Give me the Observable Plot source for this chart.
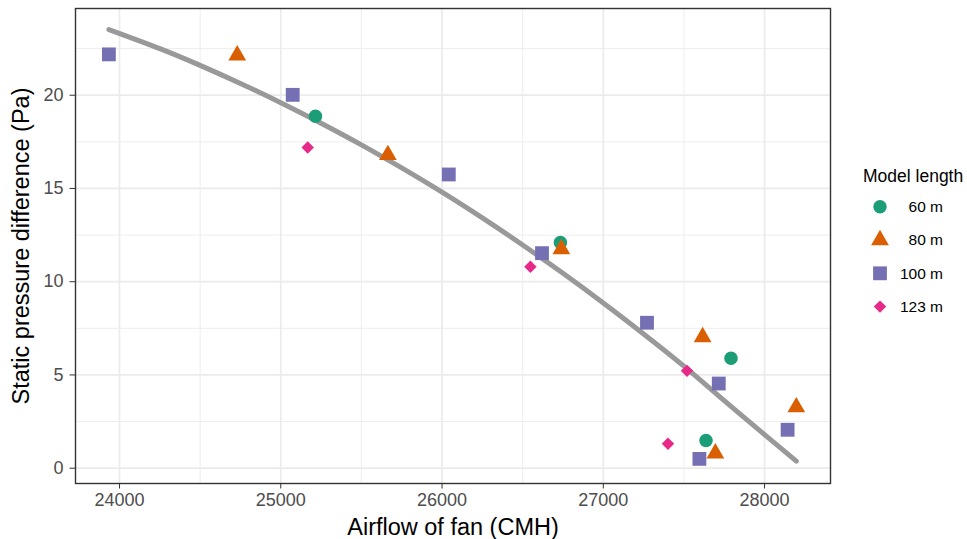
<!DOCTYPE html>
<html>
<head>
<meta charset="utf-8">
<script src="https://cdn.jsdelivr.net/npm/d3@7"></script>
<script src="https://cdn.jsdelivr.net/npm/@observablehq/plot@0.6"></script>
<style>
  body { margin: 0; background: #fff; }
  #chart { position: relative; width: 967px; height: 539px; font-family: "Liberation Sans", Arial, sans-serif; }
  #chart > svg { position: absolute; left: 0; top: 0; }
</style>
</head>
<body>
<div id="chart"></div>
<script>
// Model lengths (legend order)
const lengths = ["60 m", "80 m", "100 m", "123 m"];

// Measured fan airflow (CMH) and static pressure difference (Pa) per model length
const airflow60 = [25215, 26734, 27792, 27637];
const pressure60 = [18.87, 12.1, 5.9, 1.49];
const airflow80 = [24730, 25664, 26740, 27616, 28197, 27695];
const pressure80 = [22.14, 16.8, 11.75, 7.03, 3.27, 0.8];
const airflow100 = [23934, 25074, 26042, 26620, 27271, 27716, 28143, 27596];
const pressure100 = [22.19, 20.02, 15.75, 11.53, 7.8, 4.54, 2.06, 0.5];
const airflow123 = [25167, 26548, 27519, 27401];
const pressure123 = [17.2, 10.8, 5.22, 1.31];

// Fitted trend curve over all runs
const fitAirflow = [23934, 24250, 24500, 24750, 25000, 25250, 25500, 25750, 26000,
                    26250, 26500, 26750, 27000, 27250, 27500, 27750, 28000, 28197];
const fitPressure = [23.52, 22.5, 21.6, 20.63, 19.6, 18.5, 17.34, 16.1, 14.8,
                     13.42, 11.97, 10.45, 8.86, 7.2, 5.47, 3.62, 1.8, 0.38];

// Axis ticks
const xTicks = [24000, 25000, 26000, 27000, 28000];
const xMinor = [24500, 25500, 26500, 27500];
const yTicks = [0, 5, 10, 15, 20];
const yMinor = [2.5, 7.5, 12.5, 17.5, 22.5];

const xTitle = "Airflow of fan (CMH)";
const yTitle = "Static pressure difference (Pa)";
const legendTitle = "Model length";

// Styling
const palette = ["#1B9E77", "#D95F02", "#7570B3", "#E7298A"];
const symbols = ["circle", "triangle", "square", "diamond2"];
const radii = [6.75, 6.6, 7.8, 5.6];

const series = [
  [airflow60, pressure60],
  [airflow80, pressure80],
  [airflow100, pressure100],
  [airflow123, pressure123]
];
const groups = series.map(([xs, ys], i) =>
  xs.map((x, j) => ({length: lengths[i], airflow: x, pressure: ys[j]})));
const fit = fitAirflow.map((x, i) => ({airflow: x, pressure: fitPressure[i]}));

const W = 967, H = 539;
const plot = Plot.plot({
  width: W,
  height: H,
  marginLeft: 75,
  marginRight: 137,
  marginTop: 8,
  marginBottom: 56,
  style: {fontFamily: "'Liberation Sans', Arial, sans-serif", background: "#fff"},
  x: {domain: [23727, 28409]},
  y: {domain: [-0.82, 24.65]},
  color: {domain: lengths, range: palette},
  symbol: {domain: lengths, range: symbols},
  marks: [
    Plot.ruleX(xMinor, {stroke: "#EBEBEB", strokeWidth: 0.9}),
    Plot.ruleY(yMinor, {stroke: "#EBEBEB", strokeWidth: 0.9}),
    Plot.ruleX(xTicks, {stroke: "#EBEBEB", strokeWidth: 1.7}),
    Plot.ruleY(yTicks, {stroke: "#EBEBEB", strokeWidth: 1.7}),
    Plot.line(fit, {x: "airflow", y: "pressure", stroke: "#999999", strokeWidth: 5, curve: "natural"}),
    ...groups.map((rows, i) => Plot.dot(rows, {
      x: "airflow", y: "pressure", fill: "length", symbol: "length", r: radii[i], stroke: "none"
    })),
    Plot.frame({stroke: "#333333", strokeWidth: 1.4}),
    Plot.axisX(xTicks, {
      tickSize: 5.5, tickPadding: 4.5, fontSize: 18, color: "#4D4D4D", stroke: "#333333",
      tickFormat: d => String(d), label: null
    }),
    Plot.axisY(yTicks, {
      tickSize: 5.5, tickPadding: 6.5, fontSize: 18, color: "#4D4D4D", stroke: "#333333",
      tickFormat: d => String(d), label: null
    }),
    Plot.text([xTitle], {
      frameAnchor: "bottom", lineAnchor: "middle", dy: 44, fontSize: 23.5, fill: "#000"
    }),
    Plot.text([yTitle], {
      frameAnchor: "left", textAnchor: "middle", lineAnchor: "middle",
      dx: -54, rotate: -90, fontSize: 23.5, fill: "#000"
    })
  ]
});
document.getElementById("chart").appendChild(plot);

// Legend built from the plot's own color and symbol scales
const colorScale = plot.scale("color");
const symbolScale = plot.scale("symbol");
const legend = d3.select("#chart").append("svg")
  .attr("width", W).attr("height", H)
  .style("pointer-events", "none");
legend.append("text")
  .attr("x", 863).attr("y", 176).attr("dy", "0.35em")
  .attr("font-size", 17.5).attr("fill", "#000")
  .text(legendTitle);
lengths.forEach((len, i) => {
  const cy = 206.7 + i * 33.3;
  const r = radii[i];
  legend.append("path")
    .attr("transform", `translate(880,${cy})`)
    .attr("d", d3.symbol(symbolScale.apply(len), Math.PI * r * r)())
    .attr("fill", colorScale.apply(len));
  legend.append("text")
    .attr("x", 943).attr("y", cy).attr("dy", "0.35em")
    .attr("text-anchor", "end")
    .attr("font-size", 15.5).attr("fill", "#000")
    .text(len);
});
</script>
</body>
</html>
